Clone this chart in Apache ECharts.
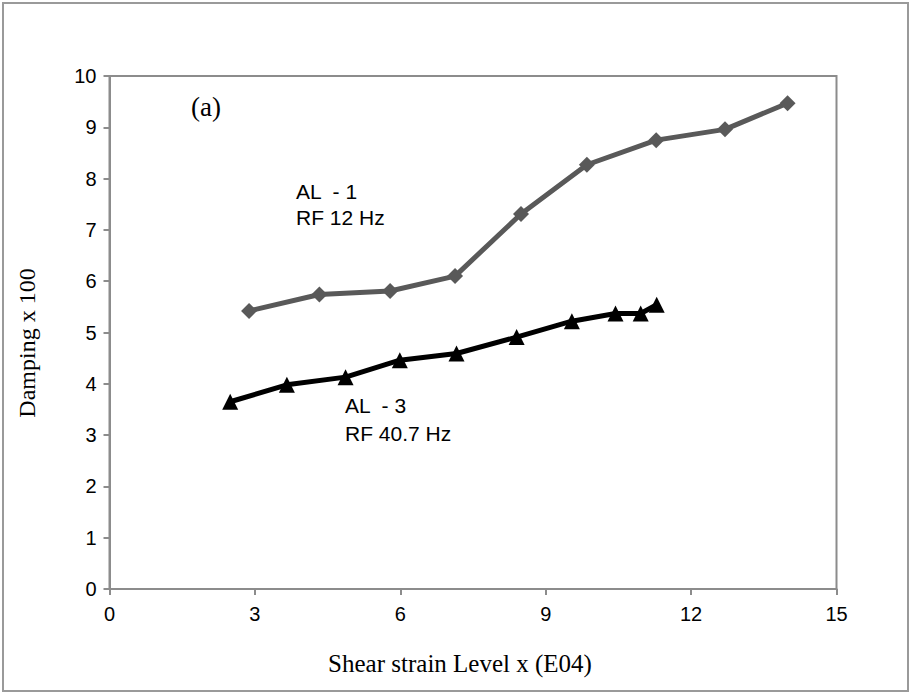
<!DOCTYPE html>
<html>
<head>
<meta charset="utf-8">
<script src="https://cdn.jsdelivr.net/npm/echarts@6/dist/echarts.min.js"></script>
<style>
  html, body { margin: 0; padding: 0; background: #fff; }
  #chart { width: 909px; height: 692px; }
</style>
</head>
<body>
<div id="chart"></div>
<script>
// AL - 1 (RF 12 Hz): shear strain level vs damping
const al1Strain  = [2.88, 4.33, 5.79, 7.13, 8.49, 9.85, 11.28, 12.70, 13.99];
const al1Damping = [5.42, 5.74, 5.81, 6.10, 7.31, 8.27, 8.75, 8.96, 9.47];

// AL - 3 (RF 40.7 Hz)
const al3Strain  = [2.49, 3.66, 4.87, 5.99, 7.16, 8.40, 9.54, 10.44, 10.96, 11.29];
const al3Damping = [3.65, 3.98, 4.13, 4.46, 4.59, 4.91, 5.22, 5.37, 5.37, 5.54];

const xTicks = [0, 3, 6, 9, 12, 15];
const yTicks = [0, 1, 2, 3, 4, 5, 6, 7, 8, 9, 10];

const pairs = (xs, ys) => xs.map((x, i) => [x, ys[i]]);

const axisGray = '#8c8c8c';
const sans = '"Liberation Sans", Arial, sans-serif';
const serif = '"Liberation Serif", "Times New Roman", serif';

const chart = echarts.init(document.getElementById('chart'), null, { renderer: 'svg' });

chart.setOption({
  animation: false,
  backgroundColor: '#fff',
  grid: {
    left: 109.5, right: 72.5, top: 76, bottom: 103,
    show: true, borderColor: axisGray, borderWidth: 2, backgroundColor: 'transparent'
  },
  xAxis: {
    type: 'value',
    min: xTicks[0], max: xTicks[xTicks.length - 1], interval: 3,
    axisLine: { show: true, onZero: false, lineStyle: { color: axisGray, width: 2 } },
    axisTick: { show: true, length: 6, lineStyle: { color: axisGray, width: 2 } },
    axisLabel: { fontFamily: sans, fontSize: 20, color: '#000', margin: 15 },
    splitLine: { show: false }
  },
  yAxis: {
    type: 'value',
    min: yTicks[0], max: yTicks[yTicks.length - 1], interval: 1,
    axisLine: { show: true, onZero: false, lineStyle: { color: axisGray, width: 2 } },
    axisTick: { show: true, length: 6, lineStyle: { color: axisGray, width: 2 } },
    axisLabel: { fontFamily: sans, fontSize: 20, color: '#000', margin: 13 },
    splitLine: { show: false }
  },
  series: [
    {
      name: 'AL - 1',
      type: 'line',
      data: pairs(al1Strain, al1Damping),
      symbol: 'diamond', symbolSize: 16,
      lineStyle: { color: '#595959', width: 5 },
      itemStyle: { color: '#595959' }
    },
    {
      name: 'AL - 3',
      type: 'line',
      data: pairs(al3Strain, al3Damping),
      symbol: 'triangle', symbolSize: 16,
      lineStyle: { color: '#000', width: 5 },
      itemStyle: { color: '#000' }
    }
  ],
  graphic: [
    {
      type: 'rect', silent: true, z: -1,
      shape: { x: 3, y: 3, width: 905, height: 688 },
      style: { fill: 'none', stroke: '#9a9a9a', lineWidth: 2 }
    },
    // axis titles
    {
      type: 'text', x: 27, y: 343, rotation: Math.PI / 2,
      style: {
        text: 'Damping x 100', font: '24px ' + serif, fill: '#000',
        align: 'center', verticalAlign: 'middle'
      }
    },
    {
      type: 'text', x: 460, y: 663,
      style: {
        text: 'Shear strain Level x (E04)', font: '25px ' + serif, fill: '#000',
        align: 'center', verticalAlign: 'middle'
      }
    },
    // panel label and series notes
    {
      type: 'text', x: 191, y: 107,
      style: { text: '(a)', font: '27px ' + serif, fill: '#000', verticalAlign: 'middle' }
    },
    {
      type: 'text', x: 296, y: 191,
      style: {
        text: 'AL  - 1\nRF 12 Hz', font: '21px ' + sans, fill: '#000',
        lineHeight: 26, verticalAlign: 'top', padding: [-13, 0, 0, 0]
      }
    },
    {
      type: 'text', x: 345, y: 405,
      style: {
        text: 'AL  - 3\nRF 40.7 Hz', font: '21px ' + sans, fill: '#000',
        lineHeight: 28, verticalAlign: 'top', padding: [-14, 0, 0, 0]
      }
    }
  ]
});
</script>
</body>
</html>
